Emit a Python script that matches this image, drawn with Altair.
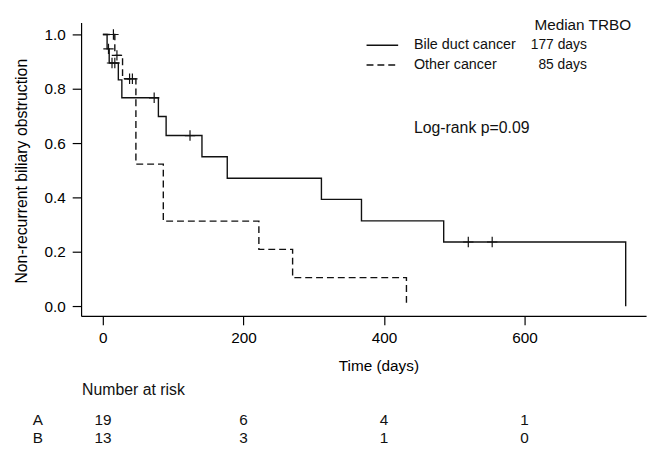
import altair as alt
import pandas as pd

# Kaplan-Meier steps
time_a = [0, 6, 9, 22, 27, 79, 90, 141, 177, 311, 368, 485, 744]
surv_a = [1.0, 0.947, 0.895, 0.833, 0.767, 0.698, 0.628, 0.550, 0.471, 0.393, 0.314, 0.236, 0.0]
cens_a_time = [8, 13, 17, 73, 124, 520, 554]
cens_a_surv = [0.947, 0.895, 0.895, 0.767, 0.628, 0.236, 0.236]

time_b = [0, 17, 28, 47, 86, 222, 270, 432]
surv_b = [1.0, 0.923, 0.837, 0.523, 0.313, 0.209, 0.105, 0.0]
cens_b_time = [15, 20, 38, 42]
cens_b_surv = [1.0, 0.923, 0.837, 0.837]

risk_times = [0, 200, 400, 600]
risk_a = [19, 6, 4, 1]
risk_b = [13, 3, 1, 0]

x_ticks = [0, 200, 400, 600]
y_ticks = [0.0, 0.2, 0.4, 0.6, 0.8, 1.0]

INK = "#111111"
FONT = "Liberation Sans"
FS = 14.5

xscale = alt.Scale(domain=[-31, 773], nice=False, zero=False)
yscale = alt.Scale(domain=[-0.036, 1.044], nice=False, zero=False)
xaxis = alt.Axis(values=x_ticks, format="d", title="Time (days)", tickSize=9,
                 labelPadding=6, titleX=301, titleY=50, titleAlign="center",
                 titleBaseline="middle", titleFontSize=15.5)
yaxis = alt.Axis(values=y_ticks, format=".1f", title="Non-recurrent biliary obstruction",
                 tickSize=9, labelPadding=7, titleX=-60, titleY=150, titleAngle=270,
                 titleAlign="center", titleBaseline="middle", titleFontSize=16)

X = alt.X("time:Q", scale=xscale, axis=xaxis)
Y = alt.Y("surv:Q", scale=yscale, axis=yaxis)

df_a = pd.DataFrame({"time": time_a, "surv": surv_a})
df_b = pd.DataFrame({"time": time_b, "surv": surv_b})
df_ca = pd.DataFrame({"time": cens_a_time, "surv": cens_a_surv})
df_cb = pd.DataFrame({"time": cens_b_time, "surv": cens_b_surv})

line_a = alt.Chart(df_a).mark_line(interpolate="step-after", color=INK, strokeWidth=1.4).encode(x=X, y=Y)
line_b = alt.Chart(df_b).mark_line(interpolate="step-after", color=INK, strokeWidth=1.4,
                                   strokeDash=[7, 4]).encode(x=X, y=Y)
plus = "M-1,0L1,0M0,-1L0,1"
cens_a = alt.Chart(df_ca).mark_point(shape=plus, size=110, filled=False, color=INK,
                                     strokeWidth=1.2, opacity=1).encode(x=X, y=Y)
cens_b = alt.Chart(df_cb).mark_point(shape=plus, size=110, filled=False, color=INK,
                                     strokeWidth=1.2, opacity=1).encode(x=X, y=Y)

def label(text, x, y, align="left", size=FS):
    return alt.Chart(pd.DataFrame({"t": [text]})).mark_text(
        align=align, baseline="middle", font=FONT, fontSize=size, color=INK
    ).encode(text="t:N", x=alt.value(x), y=alt.value(y))

leg_solid = alt.Chart(pd.DataFrame({"k": [1]})).mark_rule(color=INK, strokeWidth=1.4).encode(
    x=alt.value(289), x2=alt.value(321), y=alt.value(23))
leg_dash = alt.Chart(pd.DataFrame({"k": [1]})).mark_rule(color=INK, strokeWidth=1.4,
                                                         strokeDash=[7, 4]).encode(
    x=alt.value(289), x2=alt.value(321), y=alt.value(43))

texts = [
    label("Median TRBO", 459, 3, size=15.5),
    label("Bile duct cancer", 337, 23),
    label("177 days", 512, 23, align="right", size=14),
    label("Other cancer", 337, 43),
    label("85 days", 512, 43, align="right", size=14),
    label("Log-rank p=0.09", 337, 107, size=16),
    label("Number at risk", 1, 372, size=16),
    label("A", -49, 402, size=15.5),
    label("B", -49, 421, size=15.5),
]

df_risk_a = pd.DataFrame({"time": risk_times, "n": risk_a})
df_risk_b = pd.DataFrame({"time": risk_times, "n": risk_b})
risk_a_txt = alt.Chart(df_risk_a).mark_text(font=FONT, fontSize=15.5, color=INK, baseline="middle").encode(
    x=X, y=alt.value(402), text="n:Q")
risk_b_txt = alt.Chart(df_risk_b).mark_text(font=FONT, fontSize=15.5, color=INK, baseline="middle").encode(
    x=X, y=alt.value(421), text="n:Q")

chart = alt.layer(
    line_a, line_b, cens_a, cens_b, leg_solid, leg_dash, risk_a_txt, risk_b_txt, *texts
).properties(
    width=572, height=297,
    autosize=alt.AutoSizeParams(type="none"),
    padding={"left": 74, "top": 12, "right": 6, "bottom": 132},
).configure_view(stroke=None).configure_axis(
    grid=False, domainColor="black", tickColor="black", labelColor="black",
    titleColor="black", labelFont=FONT, titleFont=FONT, labelFontSize=15.5,
    titleFontWeight="normal", domainWidth=1.2, tickWidth=1.2
)

chart.save("out.html", embed_options={"renderer": "svg", "actions": False})
